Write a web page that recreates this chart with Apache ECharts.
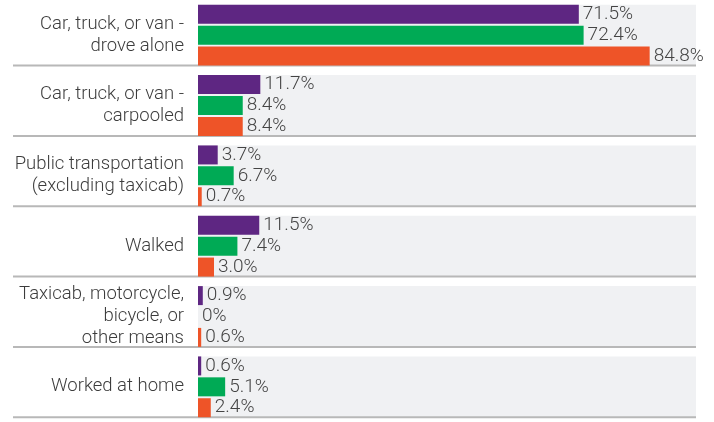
<!DOCTYPE html>
<html>
<head>
<meta charset="utf-8">
<script src="https://cdn.jsdelivr.net/npm/echarts@6/dist/echarts.min.js"></script>
<style>
html,body{margin:0;padding:0;background:#fff;}
#main{width:714px;height:422px;}
</style>
</head>
<body>
<div id="main"></div>
<script>
// categories, top to bottom
var categories = [
    "Car, truck, or van -\ndrove alone",
    "Car, truck, or van -\ncarpooled",
    "Public transportation\n(excluding taxicab)",
    "Walked",
    "Taxicab, motorcycle,\nbicycle, or\nother means",
    "Worked at home"
];
var purpleValues = [71.5, 11.7, 3.7, 11.5, 0.9, 0.6];
var greenValues = [72.4, 8.4, 6.7, 7.4, 0, 5.1];
var orangeValues = [84.8, 8.4, 0.7, 3.0, 0.6, 2.4];

var seriesColors = ["#5e2682", "#00aa55", "#ee5428"];
var fontName = "Roboto";

function pctLabel(p){
    var v = p.value;
    return v === 0 ? "0%" : v.toFixed(1) + "%";
}

function barSeries(name, data, color){
    return {
        name: name,
        type: "bar",
        data: data,
        barWidth: 19,
        barGap: "10%",
        z: 3,
        itemStyle: { color: color },
        label: {
            show: true,
            position: "right",
            distance: 4,
            formatter: pctLabel,
            color: "#444",
            fontFamily: fontName,
            fontWeight: 300,
            fontSize: 19
        }
    };
}

//灰色背景条 + 分隔线
function renderBand(params, api){
    var cs = params.coordSys;
    var center = api.coord([0, api.value(1)]);
    var slot = api.size([0, 1])[1];
    var bandH = slot * 0.864;
    var top = center[1] - bandH / 2;
    var bottom = center[1] + bandH / 2;
    return {
        type: "group",
        children: [{
            type: "rect",
            shape: { x: cs.x, y: top, width: cs.width, height: bandH },
            style: { fill: "#f0f1f3" }
        }, {
            type: "line",
            shape: { x1: 13, y1: bottom, x2: cs.x + cs.width, y2: bottom },
            style: { stroke: "#b8b8b8", lineWidth: 2 }
        }]
    };
}

var chart = echarts.init(document.getElementById("main"));
var option = {
    animation: false,
    grid: { left: 198, right: 18, top: -3, bottom: -5, containLabel: false },
    xAxis: {
        type: "value",
        min: 0,
        max: 93.5,
        show: false
    },
    yAxis: {
        type: "category",
        inverse: true,
        data: categories,
        axisLine: { show: false },
        axisTick: { show: false },
        splitLine: { show: false },
        axisLabel: {
            margin: 14,
            align: "right",
            color: "#3c3c3c",
            fontFamily: fontName,
            fontWeight: 300,
            fontSize: 18.5,
            lineHeight: 22
        }
    },
    series: [{
        type: "custom",
        renderItem: renderBand,
        data: categories.map(function(c, i){ return [0, i]; }),
        encode: { x: 0, y: 1 },
        z: 1,
        silent: true
    },
        barSeries("purple", purpleValues, seriesColors[0]),
        barSeries("green", greenValues, seriesColors[1]),
        barSeries("orange", orangeValues, seriesColors[2])
    ]
};
chart.setOption(option);
</script>
</body>
</html>
